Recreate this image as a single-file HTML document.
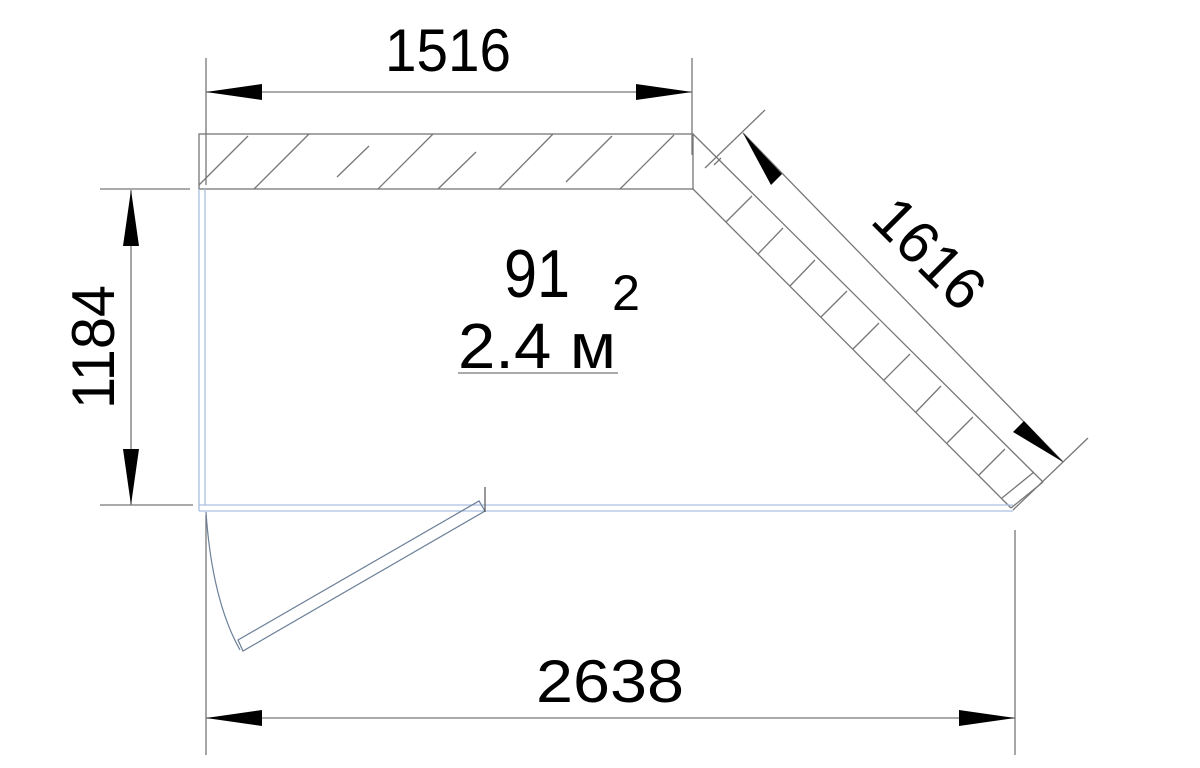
<!DOCTYPE html>
<html><head><meta charset="utf-8"><style>html,body{margin:0;padding:0;background:#fff}svg{display:block}</style></head><body>
<svg width="1200" height="768" viewBox="0 0 1200 768" xmlns="http://www.w3.org/2000/svg" font-family="Liberation Sans, sans-serif">
<g stroke="#777" stroke-width="1.3" fill="none">
<rect x="199" y="134" width="494" height="55"/>
<path d="M199,185 L248,136 M254,189 L309,134 M337,177 L369,146 M378,189 L433,134 M438,189 L476,152 M499,189 L553,134 M566,182 L612,136 M620,189 L674,135"/>
<path d="M693,134 L1043,482 M693,189 L1011,508 M1011,508 L1043,482"/>
<path d="M714,165 L721,158 M726,222 L752,196 M758,254 L783,228 M790,286 L815,260 M821,317 L847,291 M853,349 L879,323 M884,380 L910,354 M916,412 L941,386 M947,443 L973,417 M979,475 L1005,449 M1002,498 L1034,472"/>
<path d="M206,58 V185 M692,58 V155 M100,189 H190 M100,505 H193 M206,515 V755 M1015,530 V755 M705,168 L765,110 M1013,510 L1088,438"/>
<path d="M206,92 H692 M131,190 V505 M206,718 H1015 M743,133 L1063,462"/>
</g>
<g fill="#000">
<polygon points="206,92 262,84 262,100"/>
<polygon points="692,92 636,84 636,100"/>
<polygon points="131,190 123,246 139,246"/>
<polygon points="131,505 123,449 139,449"/>
<polygon points="206,718 262,710 262,726"/>
<polygon points="1015,718 959,710 959,726"/>
<polygon points="743,133 782,174 771,185"/>
<polygon points="1063,462 1024,421 1013,432"/>
</g>
<g stroke="#a9c1e0" stroke-width="1.3" fill="none">
<path d="M199,189 V511 M205,189 V505 M199,505 H1013 M199,511 H1013"/>
</g>
<g stroke="#6a7f98" stroke-width="1.2" fill="none">
<path d="M206,512 Q212,600 240,650"/>
<path d="M238,640 L479,501 L485,511 L243,651 Z"/>
<path d="M485,487 V512" stroke="#555"/>
</g>
<g font-size="60" fill="#000">
<text x="448" y="71" text-anchor="middle" textLength="126" lengthAdjust="spacingAndGlyphs">1516</text>
<text x="610" y="702" text-anchor="middle" textLength="148" lengthAdjust="spacingAndGlyphs">2638</text>
<text transform="translate(114,347) rotate(-90)" text-anchor="middle" textLength="124" lengthAdjust="spacingAndGlyphs">1184</text>
<text transform="translate(915,268) rotate(45)" text-anchor="middle" textLength="130" lengthAdjust="spacingAndGlyphs">1616</text>
</g>
<g fill="#000">
<text x="537" y="297" font-size="68" text-anchor="middle" textLength="66" lengthAdjust="spacingAndGlyphs">91</text>
<text x="612" y="310" font-size="50" textLength="28" lengthAdjust="spacingAndGlyphs">2</text>
<text x="458" y="368" font-size="64" textLength="158" lengthAdjust="spacingAndGlyphs">2.4 м</text>
</g>
<path d="M458,373 H618" stroke="#777" stroke-width="1.3"/>
</svg>
</body></html>
